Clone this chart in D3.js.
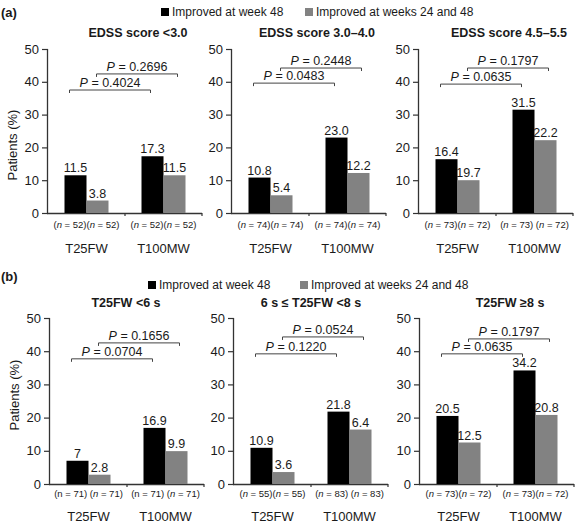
<!DOCTYPE html>
<html><head><meta charset="utf-8">
<script src="https://cdn.jsdelivr.net/npm/d3@7"></script>
<style>
body{margin:0;background:#fff;}
svg{display:block;font-family:"Liberation Sans",Arial,sans-serif;}
</style></head>
<body>
<svg id="chart" width="576" height="526"></svg>
<script>
const categories = ["T25FW", "T100MW"];
const seriesNames = ["Improved at week 48", "Improved at weeks 24 and 48"];
const yTicks = [0, 10, 20, 30, 40, 50];

// Panel (a)
const titlesA = ["EDSS score <3.0", "EDSS score 3.0\u20134.0", "EDSS score 4.5\u20135.5"];
const week48A = [[11.5, 17.3], [10.8, 23.0], [16.4, 31.5]];
const week2448A = [[3.8, 11.5], [5.4, 12.2], [10.0, 22.2]];
const week48LabelsA = [["11.5", "17.3"], ["10.8", "23.0"], ["16.4", "31.5"]];
const week2448LabelsA = [["3.8", "11.5"], ["5.4", "12.2"], ["19.7", "22.2"]];
const pA = [["0.4024", "0.2696"], ["0.0483", "0.2448"], ["0.0635", "0.1797"]];
const bracketA = [[37.5, 42.4], [39.6, 44.2], [39.3, 44.2]];
const nA = [[["52", "52"], ["52", "52"]], [["74", "74"], ["74", "74"]], [["73", "72"], ["73", "72"]]];

// Panel (b)
const titlesB = ["T25FW <6 s", "6 s \u2264 T25FW <8 s", "T25FW \u22658 s"];
const week48B = [[7, 16.9], [10.9, 21.8], [20.5, 34.2]];
const week2448B = [[2.8, 9.9], [3.6, 16.4], [12.5, 20.8]];
const week48LabelsB = [["7", "16.9"], ["10.9", "21.8"], ["20.5", "34.2"]];
const week2448LabelsB = [["2.8", "9.9"], ["3.6", "6.4"], ["12.5", "20.8"]];
const pB = [["0.0704", "0.1656"], ["0.1220", "0.0524"], ["0.0635", "0.1797"]];
const bracketB = [[37.7, 42.5], [39.2, 44.3], [39.2, 43.7]];
const nB = [[["71", "71"], ["71", "71"]], [["55", "55"], ["83", "83"]], [["73", "72"], ["73", "72"]]];
const nItalicB = [[false, true], [true, true], [true, true]];

const colors = ["#000000", "#828282"];
const textColor = "#1a1a1a";
const axisColor = "#333";

const svg = d3.select("#chart");

function drawSection(cfg) {
  const g = svg.append("g");
  // section letter
  g.append("text").attr("x", 1).attr("y", cfg.letterY).attr("font-size", 13).attr("font-weight", "bold")
    .attr("fill", textColor).text(cfg.letter);
  // legend
  const lg = g.append("g");
  cfg.legendX.forEach((lx, i) => {
    lg.append("rect").attr("x", lx).attr("y", cfg.legendY - 8).attr("width", 8).attr("height", 8).attr("fill", colors[i]);
    lg.append("text").attr("x", lx + 11).attr("y", cfg.legendY).attr("font-size", 12).attr("fill", textColor).text(seriesNames[i]);
  });
  // y title
  g.append("text").attr("transform", `translate(${cfg.yTitleX},${cfg.yTitleY}) rotate(-90)`)
    .attr("text-anchor", "middle").attr("font-size", 13).attr("fill", textColor).text("Patients (%)");

  const y = d3.scaleLinear().domain([0, 50]).range([cfg.bottom, cfg.top]);
  const barW = 22;

  cfg.xStarts.forEach((x0, pi) => {
    const pg = g.append("g");
    const x = d3.scaleBand().domain(categories).range([x0, x0 + cfg.width]).padding(0);
    const center = c => x(c) + x.bandwidth() / 2;

    // title
    pg.append("text").attr("x", cfg.titleX[pi]).attr("y", cfg.titleY).attr("text-anchor", "middle")
      .attr("font-size", 12.5).attr("font-weight", "bold").attr("fill", textColor).text(cfg.titles[pi]);

    // y axis
    const ya = pg.append("g").attr("transform", `translate(${x0},0)`)
      .call(d3.axisLeft(y).tickValues(yTicks).tickSize(6).tickPadding(3).tickFormat(d3.format("d")));
    ya.select(".domain").attr("stroke", axisColor).attr("stroke-width", 1.3).attr("d", `M-0.5,${cfg.top}V${cfg.bottom}`);
    ya.selectAll(".tick line").attr("stroke", axisColor).attr("stroke-width", 1.2);
    ya.selectAll(".tick text").attr("font-size", 13).attr("fill", textColor).attr("font-family", "Liberation Sans, Arial, sans-serif");

    // x axis line
    pg.append("line").attr("x1", x0 - 1).attr("x2", x0 + cfg.width).attr("y1", cfg.bottom + 0.5).attr("y2", cfg.bottom + 0.5)
      .attr("stroke", axisColor).attr("stroke-width", 1.3);
    [x(categories[1]), x0 + cfg.width].forEach(tx => {
      pg.append("line").attr("x1", tx).attr("x2", tx).attr("y1", cfg.bottom).attr("y2", cfg.bottom + 3)
        .attr("stroke", axisColor).attr("stroke-width", 1.2);
    });

    // bars
    const series = [cfg.w48[pi], cfg.w2448[pi]];
    const labels = [cfg.l48[pi], cfg.l2448[pi]];
    series.forEach((vals, si) => {
      categories.forEach((c, ci) => {
        const bx = center(c) - barW + si * barW;
        pg.append("rect").attr("x", bx).attr("y", y(vals[ci])).attr("width", barW)
          .attr("height", y(0) - y(vals[ci])).attr("fill", colors[si]);
        pg.append("text").attr("x", bx + barW / 2).attr("y", y(vals[ci]) - 3).attr("text-anchor", "middle")
          .attr("font-size", 12.5).attr("fill", textColor).text(labels[si][ci]);
      });
    });

    // brackets
    const br = cfg.brackets[pi];
    const brX = [[center(categories[0]) - 17, center(categories[1]) - 13], [center(categories[0]) + 10, center(categories[1]) + 14]];
    br.forEach((bv, bi) => {
      const by = y(bv);
      const [xa, xb] = brX[bi];
      pg.append("path").attr("d", `M${xa},${by + 3}V${by}H${xb}V${by + 3}`).attr("fill", "none")
        .attr("stroke", "#444").attr("stroke-width", 1);
      const t = pg.append("text").attr("x", (xa + xb) / 2).attr("y", by - 3).attr("text-anchor", "middle")
        .attr("font-size", 12.5).attr("fill", textColor);
      t.append("tspan").attr("font-style", "italic").text("P");
      t.append("tspan").text(" = " + cfg.p[pi][bi]);
    });

    // n labels and category labels
    categories.forEach((c, ci) => {
      const ns = cfg.n[pi][ci];
      const t = pg.append("text").attr("x", center(c)).attr("y", cfg.nY).attr("text-anchor", "middle")
        .attr("font-size", 9.5).attr("fill", textColor);
      ns.forEach((nv, k) => {
        const ital = cfg.nItalic ? cfg.nItalic[pi][k] : true;
        t.append("tspan").text((k === 1 && cfg.nSpace && cfg.nSpace(pi, ci) ? " " : "") + "(");
        t.append("tspan").attr("font-style", ital ? "italic" : "normal").text("n");
        t.append("tspan").text(" = " + nv + ")");
      });
      pg.append("text").attr("x", center(c)).attr("y", cfg.catY).attr("text-anchor", "middle")
        .attr("font-size", 13).attr("fill", textColor).text(c);
    });
  });
}

drawSection({
  letter: "(a)", letterY: 17,
  legendX: [161, 305], legendY: 16,
  yTitleX: 17, yTitleY: 145,
  top: 49, bottom: 213, width: 154,
  xStarts: [48, 232, 419],
  titleX: [138, 317, 509], titleY: 37,
  titles: titlesA, w48: week48A, w2448: week2448A, l48: week48LabelsA, l2448: week2448LabelsA,
  p: pA, brackets: bracketA, n: nA, nY: 228, catY: 253,
  nSpace: (pi, ci) => pi === 2 && ci === 1
});

drawSection({
  letter: "(b)", letterY: 281,
  legendX: [148, 300], legendY: 289,
  yTitleX: 19, yTitleY: 395,
  top: 318, bottom: 484, width: 154,
  xStarts: [50, 234, 420],
  titleX: [126, 311, 510], titleY: 307,
  titles: titlesB, w48: week48B, w2448: week2448B, l48: week48LabelsB, l2448: week2448LabelsB,
  p: pB, brackets: bracketB, n: nB, nItalic: nItalicB, nY: 497, catY: 521,
  nSpace: (pi, ci) => (pi === 0) || (pi === 1 && ci === 1)
});
</script>
</body></html>
